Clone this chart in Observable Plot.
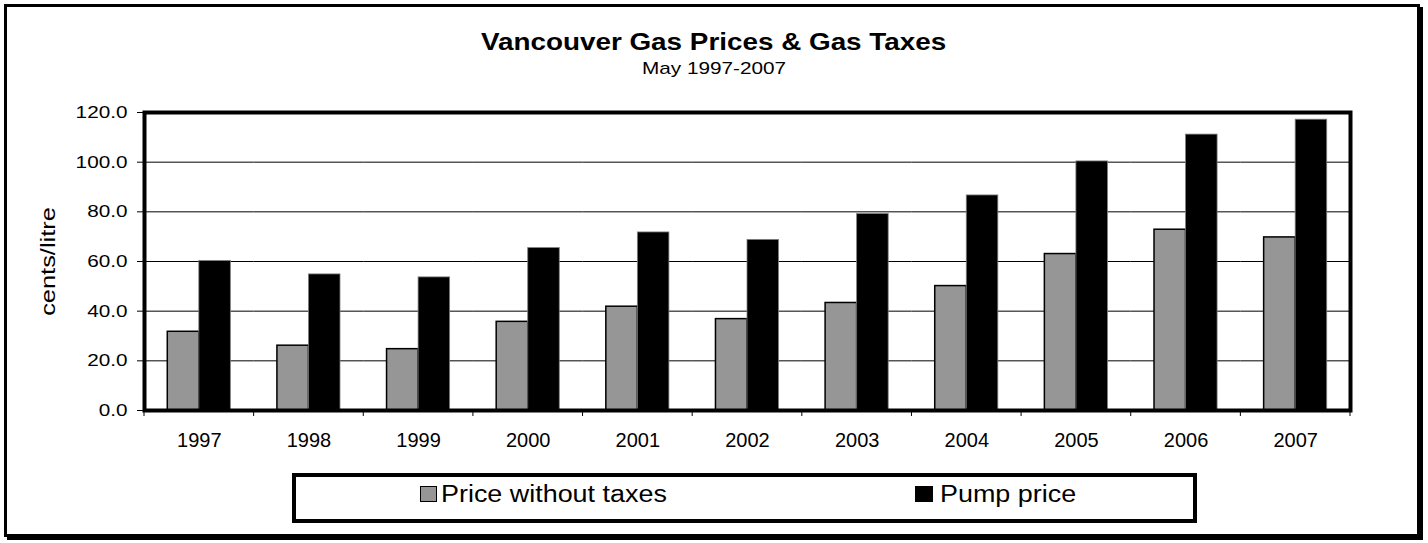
<!DOCTYPE html>
<html><head><meta charset="utf-8">
<script src="https://cdn.jsdelivr.net/npm/d3@7"></script>
<script src="https://cdn.jsdelivr.net/npm/@observablehq/plot@0.6"></script>
<style>
html,body{margin:0;padding:0;background:#fff;}
body{width:1428px;height:543px;position:relative;overflow:hidden;font-family:"Liberation Sans",Arial,sans-serif;color:#000;}
#border{position:absolute;left:4px;top:4px;width:1416px;height:533px;box-sizing:border-box;border:3px solid #000;box-shadow:3px 3px 0 #000;}
.line{position:absolute;left:0;width:1428px;text-align:center;white-space:nowrap;}
.line span{display:inline-block;transform-origin:center;}
#title{top:30.4px;font-size:24px;line-height:24px;font-weight:bold;}
#title span{transform:scaleX(1.16);}
#subtitle{top:60px;font-size:17px;line-height:17px;}
#subtitle span{transform:scaleX(1.22);}
#chart{position:absolute;left:0;top:90px;}
#legend{position:absolute;left:292px;top:473px;width:905px;height:50px;box-sizing:border-box;border:4px solid #000;}
.sw{position:absolute;top:486px;height:16px;box-sizing:border-box;border:1.5px solid #000;}
.lt{position:absolute;top:482.5px;font-size:23px;line-height:23px;white-space:nowrap;transform:scaleX(1.17);transform-origin:left center;}
</style></head>
<body>
<div id="border"></div>
<div class="line" id="title"><span></span></div>
<div class="line" id="subtitle"><span></span></div>
<div id="chart"></div>
<div id="legend"></div>
<script>
const titleText = "Vancouver Gas Prices & Gas Taxes";
const subtitleText = "May 1997-2007";
const yLabel = "cents/litre";
const years = ["1997","1998","1999","2000","2001","2002","2003","2004","2005","2006","2007"];
const seriesNames = ["Price without taxes", "Pump price"];
const seriesColors = ["#969696", "#000000"];
const priceWithoutTaxes = [31.7, 26.1, 24.7, 35.7, 41.8, 36.8, 43.3, 50.1, 63.0, 72.8, 69.7];
const pumpPrice = [60.2, 54.8, 53.6, 65.4, 71.7, 68.7, 79.1, 86.6, 100.3, 111.1, 117.1];
const yTicks = [0, 20, 40, 60, 80, 100, 120];

document.querySelector("#title span").textContent = titleText;
document.querySelector("#subtitle span").textContent = subtitleText;

const rows = years.flatMap((y, i) => [
  {year: y, series: seriesNames[0], value: priceWithoutTaxes[i]},
  {year: y, series: seriesNames[1], value: pumpPrice[i]}
]);

const chart = Plot.plot({
  width: 1428, height: 360,
  marginTop: 22, marginBottom: 40, marginLeft: 144, marginRight: 78,
  style: {fontFamily: "Liberation Sans, Arial, sans-serif", color: "#000", background: "transparent", overflow: "visible"},
  fx: {domain: years, padding: 0, label: null, round: false},
  x: {domain: seriesNames, paddingInner: 0, paddingOuter: 0.738, axis: null, round: false},
  y: {domain: [yTicks[0], yTicks[yTicks.length - 1]], label: null},
  marks: [
    Plot.ruleY(yTicks.slice(1, -1), {stroke: "#000", strokeWidth: 1}),
    Plot.barY(rows.filter(d => d.series === seriesNames[0]), {fx: "year", x: "series", y: "value", fill: seriesColors[0], stroke: "#000", strokeWidth: 1.5}),
    Plot.barY(rows.filter(d => d.series === seriesNames[1]), {fx: "year", x: "series", y: "value", fill: seriesColors[1], stroke: "#7f7f7f", strokeWidth: 0.8}),
    Plot.frame({facet: "super", stroke: "#000", strokeWidth: 4}),
    Plot.axisY({ticks: yTicks, tickSize: 7, tickPadding: 10, tickFormat: d3.format(".1f"), fontSize: 17, label: null}),
    Plot.axisY({ticks: [], tickSize: 0, fontSize: 20.5, label: yLabel, labelAnchor: "center", labelArrow: "none", labelOffset: 104}),
    Plot.axisFx({anchor: "bottom", tickSize: 0, tickPadding: 22, fontSize: 20, label: null})
  ]
});
document.getElementById("chart").appendChild(chart);

function stretch(sel, s) {
  chart.querySelectorAll(sel).forEach(t => {
    const x = +t.getAttribute("x") || 0, y = +t.getAttribute("y") || 0;
    const tr = t.getAttribute("transform") || "";
    t.setAttribute("transform", `${tr} translate(${x},${y}) scale(${s},1) translate(${-x},${-y})`);
  });
}
stretch('g[aria-label="y-axis tick label"] text', 1.22);
stretch('g[aria-label="y-axis label"] text', 1.24);

// category boundary ticks below the x axis, placed with the fx scale
const fxs = chart.scale("fx"), ys = chart.scale("y");
const edges = years.map(y => fxs.apply(y)).concat([fxs.apply(years[years.length - 1]) + fxs.bandwidth]);
const y0 = ys.apply(0);
d3.select(chart).append("g").attr("aria-label", "fx-axis boundary ticks")
  .selectAll("line").data(edges).join("line")
  .attr("x1", d => d).attr("x2", d => d)
  .attr("y1", y0 + 2).attr("y2", y0 + 6)
  .attr("stroke", "#000").attr("stroke-width", 1);

// legend
const swLeft = [420, 915], swWidth = [17, 18], txtLeft = [441, 940];
seriesNames.forEach((name, i) => {
  const sw = document.createElement("div");
  sw.className = "sw";
  sw.style.left = swLeft[i] + "px";
  sw.style.width = swWidth[i] + "px";
  sw.style.background = seriesColors[i];
  document.body.appendChild(sw);
  const t = document.createElement("div");
  t.className = "lt";
  t.style.left = txtLeft[i] + "px";
  t.textContent = name;
  document.body.appendChild(t);
});
</script>
</body></html>
